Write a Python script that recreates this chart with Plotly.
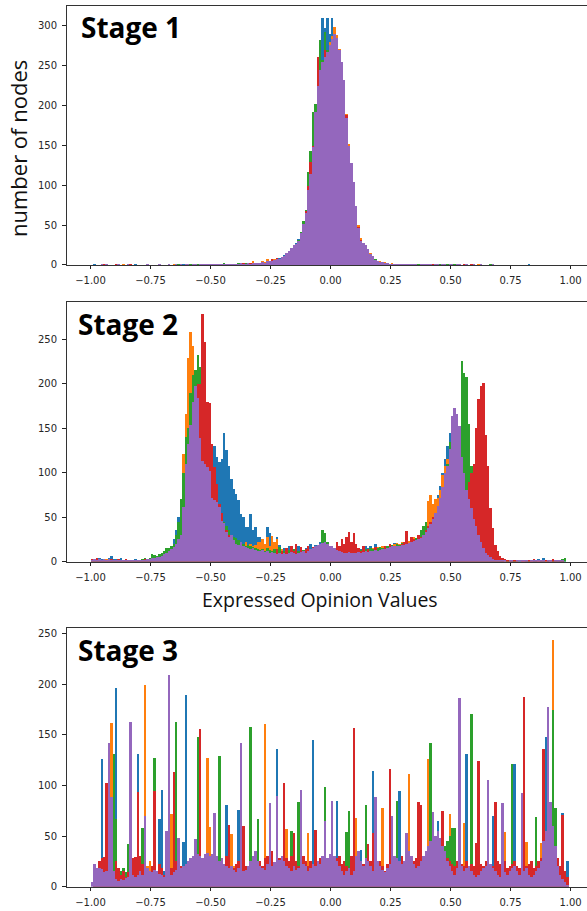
import plotly.graph_objects as go

# ---------------- data: histogram bin counts, bins of width 0.01 from -1.00 to 1.00 ----------------
BIN_START = -1.0
BIN_WIDTH = 0.01
N_BINS = 200

# ---- Stage 1 ----
P1_BLUE = [
    0,1,0,0,0,0,0,0,0,0,
    0,0,0,0,0,0,0,0,1,0,
    0,0,0,0,0,0,0,0,0,0,
    0,0,0,0,0,0,0,0,1,0,
    0,1,1,0,1,0,1,1,0,1,
    1,1,2,2,1,2,1,2,1,2,
    1,2,3,2,2,3,2,3,2,3,
    3,4,3,4,5,7,7,8,9,10,
    13,15,18,21,24,28,33,40,50,62,
    90,115,140,180,222,260,310,298,310,290,
    310,282,270,262,240,215,180,148,125,100,
    72,48,32,26,24,18,14,11,8,6,
    5,4,3,2,2,2,1,2,1,1,
    1,1,0,1,1,1,1,0,1,1,
    1,1,1,0,1,1,1,0,1,1,
    1,0,1,1,0,0,1,0,1,0,
    0,0,1,0,0,0,0,0,0,0,
    0,0,0,0,0,0,0,0,0,0,
    0,0,1,0,0,0,0,0,0,0,
    0,0,0,0,0,0,0,0,0,0,
]
P1_ORANGE = [
    0,0,0,0,0,1,0,0,0,0,
    0,0,0,1,0,0,0,0,0,0,
    0,0,0,0,0,0,0,0,0,0,
    0,0,0,0,1,0,0,0,0,0,
    1,0,0,1,0,1,0,1,1,0,
    1,2,1,1,2,1,2,1,2,1,
    2,1,2,3,2,2,3,5,3,2,
    3,5,4,8,6,8,8,7,8,9,
    12,14,18,20,23,26,30,38,50,65,
    92,110,145,188,222,240,255,262,270,280,
    288,299,289,272,252,230,190,152,123,102,
    74,50,34,25,22,19,15,12,8,6,
    5,4,4,3,2,3,2,2,1,1,
    1,0,1,1,0,1,1,1,0,1,
    0,1,1,1,0,1,0,1,1,0,
    1,1,0,1,0,1,0,0,1,0,
    0,1,0,0,0,0,0,0,0,0,
    0,0,0,0,0,0,0,0,0,0,
    0,0,0,0,0,0,0,0,0,0,
    0,0,0,0,0,0,0,0,0,0,
]
P1_GREEN = [
    0,0,0,0,0,0,0,0,0,0,
    0,0,0,0,0,0,0,0,0,0,
    0,0,0,0,0,0,0,0,0,0,
    0,0,0,0,0,0,1,0,0,0,
    0,1,0,1,1,0,1,0,1,1,
    1,2,1,2,1,3,1,2,1,2,
    2,3,2,2,3,2,2,3,2,3,
    3,4,3,4,5,6,6,8,8,9,
    12,15,17,22,26,27,32,42,55,70,
    117,144,192,203,245,283,258,293,270,275,
    280,270,268,260,245,225,182,148,122,100,
    73,46,30,27,26,20,13,11,8,6,
    4,3,3,2,2,1,2,1,1,1,
    1,1,0,1,0,1,1,0,1,0,
    1,0,1,0,1,1,0,0,1,0,
    0,1,0,1,0,0,1,0,0,0,
    0,0,0,0,0,0,1,0,0,0,
    0,0,0,0,0,0,0,0,0,0,
    0,0,0,0,0,0,0,0,0,0,
    0,0,0,0,0,0,0,0,0,0,
]
P1_RED = [
    0,0,0,0,0,1,0,0,0,0,
    1,0,0,0,0,0,1,0,0,0,
    0,0,0,0,0,0,0,0,0,0,
    0,0,0,0,0,0,0,0,0,0,
    0,0,1,0,0,1,0,0,1,0,
    1,1,1,2,1,1,2,1,1,2,
    1,2,2,3,2,2,3,2,3,2,
    3,4,3,5,6,8,6,9,8,10,
    12,15,18,22,24,27,30,38,52,68,
    100,130,150,180,261,240,255,270,268,265,
    270,280,275,265,250,230,189,150,125,100,
    74,48,32,27,25,20,14,10,7,5,
    4,3,3,2,2,2,1,1,1,1,
    1,0,1,0,1,1,0,1,0,1,
    0,1,1,0,1,0,1,0,0,1,
    1,0,0,1,0,1,0,0,1,0,
    0,0,1,0,0,0,0,0,0,0,
    0,0,0,0,0,0,0,0,0,0,
    0,0,0,0,0,0,0,0,0,0,
    0,0,0,0,0,0,0,0,0,0,
]
P1_PURPLE = [
    0,0,0,0,1,0,1,0,0,0,
    0,1,0,0,0,1,0,0,0,0,
    0,0,0,1,0,0,0,0,1,0,
    0,0,1,0,0,1,0,1,0,1,
    1,0,1,1,0,1,1,2,1,1,
    2,1,2,1,2,2,1,2,2,1,
    2,2,3,2,2,3,2,3,3,3,
    3,4,3,5,6,6,7,8,8,10,
    12,16,18,22,25,27,31,40,52,66,
    95,115,148,192,225,245,255,262,268,276,
    284,290,285,270,255,232,185,150,128,105,
    75,47,30,28,25,20,14,12,7,5,
    4,4,3,3,2,2,2,2,1,2,
    1,1,2,1,1,1,0,1,1,2,
    1,1,0,1,1,0,1,1,0,1,
    1,0,1,1,0,0,1,0,0,1,
    0,0,1,0,0,0,0,1,0,0,
    0,0,0,0,0,0,0,0,0,0,
    0,0,0,0,0,0,0,0,0,0,
    0,0,0,0,0,0,0,0,0,0,
]

# ---- Stage 2 ----
P2_BLUE = [
    2,3,2,4,3,2,3,4,6,3,
    3,2,4,2,3,2,1,2,3,2,
    2,1,2,3,2,5,4,6,5,8,
    10,12,15,18,25,35,50,70,90,105,
    115,120,125,125,120,118,120,122,125,125,
    125,130,118,112,115,145,125,108,93,82,
    76,69,54,50,39,39,54,35,39,28,
    28,20,20,39,32,24,20,28,19,13,
    15,14,18,16,13,15,17,14,12,15,
    18,20,16,19,18,22,27,20,16,14,
    14,12,10,9,11,10,12,10,13,11,
    12,10,14,16,18,15,17,13,20,16,
    14,18,17,15,20,16,21,20,18,16,
    17,20,19,22,25,27,30,32,35,40,
    48,55,60,65,75,85,100,115,130,145,
    150,155,150,140,120,100,80,65,50,40,
    30,22,15,10,7,5,4,3,2,2,
    2,1,2,1,1,2,1,1,2,1,
    1,2,1,1,2,1,3,2,4,2,
    1,2,1,2,1,1,2,3,0,0,
]
P2_ORANGE = [
    2,1,3,2,1,2,3,2,1,2,
    2,1,2,1,3,1,2,1,2,1,
    1,2,2,3,2,3,4,5,6,8,
    8,10,12,15,20,25,35,52,121,166,
    229,258,242,215,195,170,150,130,110,95,
    80,65,55,48,42,38,35,32,30,28,
    26,24,22,20,22,18,20,17,19,22,
    22,25,20,28,18,29,22,25,15,14,
    12,13,10,12,11,9,10,12,10,9,
    10,12,11,13,12,14,15,13,12,10,
    11,10,9,10,12,11,10,9,11,10,
    10,12,11,13,12,14,13,15,14,16,
    15,17,18,16,19,18,20,21,20,22,
    22,24,23,26,28,25,27,30,38,45,
    68,75,65,70,72,80,97,108,115,120,
    125,122,118,105,90,75,60,48,38,30,
    22,16,12,8,6,4,3,2,2,1,
    1,1,0,1,1,0,1,1,0,1,
    1,0,1,1,0,2,1,1,0,1,
    1,0,1,1,0,1,1,0,0,0,
]
P2_GREEN = [
    1,2,1,2,1,1,2,1,2,1,
    1,2,1,1,2,1,2,1,1,2,
    2,3,4,3,4,8,7,6,8,10,
    12,15,15,18,20,30,45,70,100,140,
    150,190,210,215,232,219,180,150,125,105,
    90,80,70,60,52,45,40,35,30,28,
    26,24,22,20,18,19,17,16,15,14,
    13,14,12,15,13,12,14,11,16,12,
    12,11,13,12,14,13,12,15,13,14,
    15,14,16,17,18,20,36,32,22,18,
    16,14,12,11,10,9,10,11,10,12,
    11,12,13,12,14,13,15,14,16,15,
    16,15,17,18,17,19,18,20,19,21,
    20,22,21,23,25,27,30,35,40,45,
    40,45,50,55,60,65,75,90,110,135,
    150,160,160,150,226,212,208,155,108,55,
    35,25,15,10,7,5,3,2,2,1,
    1,1,0,1,0,1,1,0,1,0,
    0,1,1,0,1,1,0,1,1,0,
    1,0,1,1,1,2,3,4,0,0,
]
P2_RED = [
    3,2,4,3,2,3,1,2,3,2,
    2,3,1,2,3,1,2,1,2,1,
    1,2,3,2,1,2,3,2,4,5,
    6,8,10,12,14,18,22,30,45,65,
    80,110,140,170,200,200,278,247,180,178,
    132,106,87,65,55,43,35,30,25,22,
    18,15,12,14,10,12,9,11,8,10,
    9,10,8,12,9,6,10,14,8,12,
    10,15,8,18,12,20,9,16,11,14,
    18,12,16,10,14,8,12,10,9,8,
    10,14,22,18,25,20,28,33,22,32,
    20,15,12,18,10,14,8,12,16,10,
    12,14,18,15,20,12,16,18,14,20,
    22,34,18,28,25,22,30,28,24,35,
    40,45,50,55,62,70,78,85,92,100,
    95,100,105,100,90,60,75,90,100,110,
    150,183,198,201,142,108,60,38,19,12,
    6,4,3,2,1,2,1,1,0,1,
    1,2,1,1,3,2,1,2,1,1,
    2,1,3,2,1,2,1,0,0,0,
]
P2_PURPLE = [
    2,3,2,3,2,3,2,3,2,2,
    2,1,2,2,1,2,1,2,1,2,
    1,2,2,3,3,4,4,5,5,6,
    8,10,12,14,16,20,25,30,61,110,
    132,154,180,198,184,139,113,110,106,102,
    72,69,67,61,46,43,33,28,30,24,
    20,19,22,17,16,15,14,15,13,12,
    12,13,11,12,10,11,10,9,10,9,
    10,9,10,11,10,9,10,11,12,10,
    12,14,15,17,19,20,21,22,20,18,
    17,15,13,12,11,10,10,11,10,10,
    10,11,10,11,12,11,12,12,13,12,
    13,14,14,15,16,17,17,18,18,19,
    19,20,21,22,23,24,25,27,30,33,
    38,42,48,55,62,72,84,100,108,127,
    164,173,166,153,118,100,80,70,60,48,
    40,30,22,15,10,7,5,3,2,2,
    1,1,1,0,1,1,0,1,1,1,
    1,1,0,1,1,1,2,1,1,0,
    1,1,0,1,2,1,1,0,0,0,
]

# ---- Stage 3 ----
P3_BLUE = [
    0,10,8,12,126,10,8,12,15,20,
    196,15,10,8,12,10,14,12,10,131,
    12,10,15,12,10,14,12,10,67,95,
    15,12,10,14,12,10,15,12,44,189,
    20,18,15,22,20,18,25,22,20,18,
    20,22,25,20,18,15,81,20,15,12,
    15,76,12,10,14,12,15,18,20,15,
    18,15,12,20,30,15,18,136,20,25,
    18,15,12,10,14,12,15,20,18,15,
    12,15,145,18,20,15,22,18,20,25,
    30,20,85,15,12,10,12,15,10,12,
    25,30,36,15,20,18,15,114,20,18,
    15,12,10,14,18,20,22,25,94,20,
    20,25,22,20,15,12,15,18,22,35,
    30,35,40,45,65,40,30,25,20,15,
    12,10,15,18,15,12,131,15,12,10,
    8,10,12,15,18,20,18,70,12,10,
    8,12,10,10,12,15,121,12,10,15,
    12,15,10,8,10,12,15,20,35,148,
    60,40,30,20,12,10,73,8,25,0,
]
P3_ORANGE = [
    0,8,10,12,15,10,20,90,161,20,
    15,12,10,8,10,12,14,15,12,10,
    12,15,199,20,25,18,15,12,10,12,
    10,12,15,72,14,12,10,15,12,10,
    12,15,18,20,22,25,28,30,127,59,
    25,22,20,18,15,14,12,15,52,20,
    15,12,10,14,12,15,18,20,22,20,
    18,15,160,20,15,12,18,15,12,20,
    15,57,12,10,12,15,14,12,10,12,
    53,15,12,10,12,14,15,12,10,12,
    15,12,10,12,14,12,10,12,15,20,
    68,20,15,12,14,12,10,15,12,10,
    15,78,12,10,14,15,12,10,12,15,
    12,15,111,20,18,15,12,14,18,22,
    126,30,35,40,38,35,30,25,20,72,
    15,12,10,12,14,63,15,12,10,12,
    15,12,10,14,12,15,12,10,12,15,
    12,20,54,12,14,12,10,12,15,12,
    15,44,12,10,14,12,15,43,20,25,
    30,40,243,20,15,12,10,8,5,0,
]
P3_GREEN = [
    0,5,8,10,12,8,10,12,15,131,
    67,12,15,18,14,42,12,10,15,20,
    15,58,12,10,14,18,127,15,12,10,
    12,15,14,10,12,162,15,12,10,12,
    15,18,20,22,148,25,20,18,15,20,
    22,20,25,129,18,15,12,14,12,15,
    14,12,15,18,12,20,158,15,12,67,
    15,12,10,14,12,15,12,10,14,12,
    15,12,10,55,14,12,84,15,12,10,
    12,14,15,12,14,15,12,98,20,15,
    12,15,14,12,15,18,54,75,20,15,
    12,15,18,20,81,15,12,14,12,15,
    12,14,15,12,18,20,22,85,20,18,
    15,18,20,22,25,20,15,18,22,30,
    35,142,30,35,40,38,35,40,45,50,
    58,58,25,20,18,15,18,20,170,15,
    12,15,14,12,15,18,15,12,10,12,
    14,12,15,12,10,121,15,12,14,15,
    12,15,14,12,15,69,15,12,20,25,
    30,40,174,78,20,15,12,13,5,0,
]
P3_RED = [
    0,5,8,25,28,29,102,20,12,15,
    25,18,12,15,10,14,12,28,29,93,
    30,22,15,18,12,20,94,15,22,18,
    12,15,20,18,113,25,18,20,15,12,
    18,20,25,15,30,156,20,25,18,22,
    15,18,20,22,25,18,30,61,20,18,
    22,25,18,60,20,15,25,20,30,22,
    25,20,28,30,20,35,22,25,28,30,
    102,28,25,30,53,25,20,22,30,25,
    20,25,18,56,22,28,25,20,18,22,
    25,20,28,30,22,25,20,18,30,157,
    20,25,18,22,28,42,25,53,22,20,
    25,20,15,22,116,18,20,25,22,30,
    25,22,28,30,25,28,84,81,30,25,
    22,28,25,30,28,40,75,32,28,25,
    22,20,25,18,22,20,25,18,22,20,
    43,124,22,20,25,18,22,20,84,25,
    22,20,25,18,20,22,25,20,18,22,
    187,20,22,25,18,20,25,28,136,30,
    35,40,30,25,28,20,71,15,10,0,
]
P3_PURPLE = [
    5,22,18,18,17,14,15,142,88,15,
    8,6,8,7,9,10,162,12,10,12,
    15,12,70,18,15,14,16,15,13,12,
    10,55,209,12,14,16,48,18,20,22,
    25,28,30,47,32,30,28,32,33,30,
    32,73,30,25,28,22,20,18,20,16,
    14,18,142,15,16,20,25,30,35,25,
    20,18,16,22,83,20,24,89,26,30,
    25,20,18,15,20,16,18,95,22,20,
    15,18,22,20,25,22,30,65,28,32,
    85,30,25,20,15,12,15,18,12,15,
    30,35,25,20,28,25,20,15,88,25,
    20,16,14,18,22,70,30,28,25,22,
    25,53,35,30,22,18,20,25,30,35,
    40,45,74,50,55,48,40,35,25,20,
    15,12,18,186,20,15,18,20,15,12,
    10,12,15,18,20,105,22,18,15,12,
    10,83,14,12,15,18,20,15,12,92,
    15,18,12,10,12,15,18,25,45,55,
    177,84,60,40,20,12,8,5,2,0,
]

STAGE_LABELS = ["Stage 1", "Stage 2", "Stage 3"]
SERIES_NAMES = ["blue", "orange", "green", "red", "purple"]
PANEL_DATA = [
    [P1_BLUE, P1_ORANGE, P1_GREEN, P1_RED, P1_PURPLE],
    [P2_BLUE, P2_ORANGE, P2_GREEN, P2_RED, P2_PURPLE],
    [P3_BLUE, P3_ORANGE, P3_GREEN, P3_RED, P3_PURPLE],
]
X_TICKVALS = [-1.0, -0.75, -0.5, -0.25, 0.0, 0.25, 0.5, 0.75, 1.0]
X_TICKTEXT = ["\u22121.00", "\u22120.75", "\u22120.50", "\u22120.25", "0.00", "0.25", "0.50", "0.75", "1.00"]
Y_TICKVALS = [
    [0, 50, 100, 150, 200, 250, 300],
    [0, 50, 100, 150, 200, 250],
    [0, 50, 100, 150, 200, 250],
]
Y_LABEL = "number of nodes"
X_LABEL = "Expressed Opinion Values"

# ---------------- style / layout ----------------
COLORS = {"blue": "#1f77b4", "orange": "#ff7f0e", "green": "#2ca02c", "red": "#d62728", "purple": "#9467bd"}
W, H = 587, 911
PANEL_PX = [(5.7, 266.7), (304.0, 565.3), (632.3, 892.7)]  # (top, bottom) in px
AX_LEFT_PX = 66.5
PX_PER_UNIT = 240.0
X_MIN = -1.1
X_MAX = X_MIN + (W - AX_LEFT_PX) / PX_PER_UNIT

for panel in PANEL_DATA:
    for s in panel:
        assert len(s) == N_BINS, len(s)

centers = [BIN_START + BIN_WIDTH * (i + 0.5) for i in range(N_BINS)]

fig = go.Figure()
layout_axes = {}
annotations = []
tick_font = dict(family="DejaVu Sans", size=10, color="#262626")

for p, panel in enumerate(PANEL_DATA):
    xa = "x" if p == 0 else f"x{p+1}"
    ya = "y" if p == 0 else f"y{p+1}"
    for name, counts in zip(SERIES_NAMES, panel):
        fig.add_trace(go.Bar(
            x=centers, y=counts, width=BIN_WIDTH,
            marker=dict(color=COLORS[name], line=dict(width=0)),
            xaxis=xa, yaxis=ya, showlegend=False, hoverinfo="skip",
        ))
    top, bot = PANEL_PX[p]
    ymax = 1.05 * max(max(s) for s in panel)
    xkey = "xaxis" if p == 0 else f"xaxis{p+1}"
    ykey = "yaxis" if p == 0 else f"yaxis{p+1}"
    layout_axes[xkey] = dict(
        domain=[AX_LEFT_PX / W, 1.0], range=[X_MIN, X_MAX], anchor=ya,
        tickmode="array", tickvals=X_TICKVALS, ticktext=X_TICKTEXT,
        ticks="outside", ticklen=3.5, tickwidth=0.8, tickcolor="#222",
        ticklabelstandoff=3,
        showline=True, linecolor="#333", linewidth=1, mirror=True,
        showgrid=False, zeroline=False, tickfont=tick_font, fixedrange=True,
    )
    layout_axes[ykey] = dict(
        domain=[(H - bot) / H, (H - top) / H], range=[0, ymax], anchor=xa,
        tickmode="array", tickvals=Y_TICKVALS[p],
        ticks="outside", ticklen=3.5, tickwidth=0.8, tickcolor="#222",
        ticklabelstandoff=3,
        showline=True, linecolor="#333", linewidth=1, mirror=False,
        showgrid=False, zeroline=False, tickfont=tick_font, fixedrange=True,
    )
    annotations.append(dict(
        text="<b>" + STAGE_LABELS[p] + "</b>", xref="paper", yref="paper",
        x=(79.0 if p == 0 else 76.0) / W, y=1 - ((27.0, 326.0, 654.0)[p]) / H,
        xanchor="left", yanchor="middle", showarrow=False,
        font=dict(family="Open Sans", size=28, color="black"),
    ))

annotations.append(dict(
    text=Y_LABEL, xref="paper", yref="paper", x=18 / W, y=1 - 150 / H,
    xanchor="center", yanchor="middle", textangle=-90, showarrow=False,
    font=dict(family="Open Sans", size=22, color="#111"),
))
annotations.append(dict(
    text=X_LABEL, xref="paper", yref="paper", x=320 / W, y=1 - 603 / H,
    xanchor="center", yanchor="middle", showarrow=False,
    font=dict(family="Open Sans", size=19.5, color="#111"),
))

fig.update_layout(
    width=W, height=H, autosize=False,
    margin=dict(l=0, r=0, t=0, b=0, pad=0),
    paper_bgcolor="white", plot_bgcolor="white",
    barmode="overlay", bargap=0,
    annotations=annotations,
    **layout_axes,
)

fig.write_html("out.html", include_plotlyjs=True, config={"displayModeBar": False})
